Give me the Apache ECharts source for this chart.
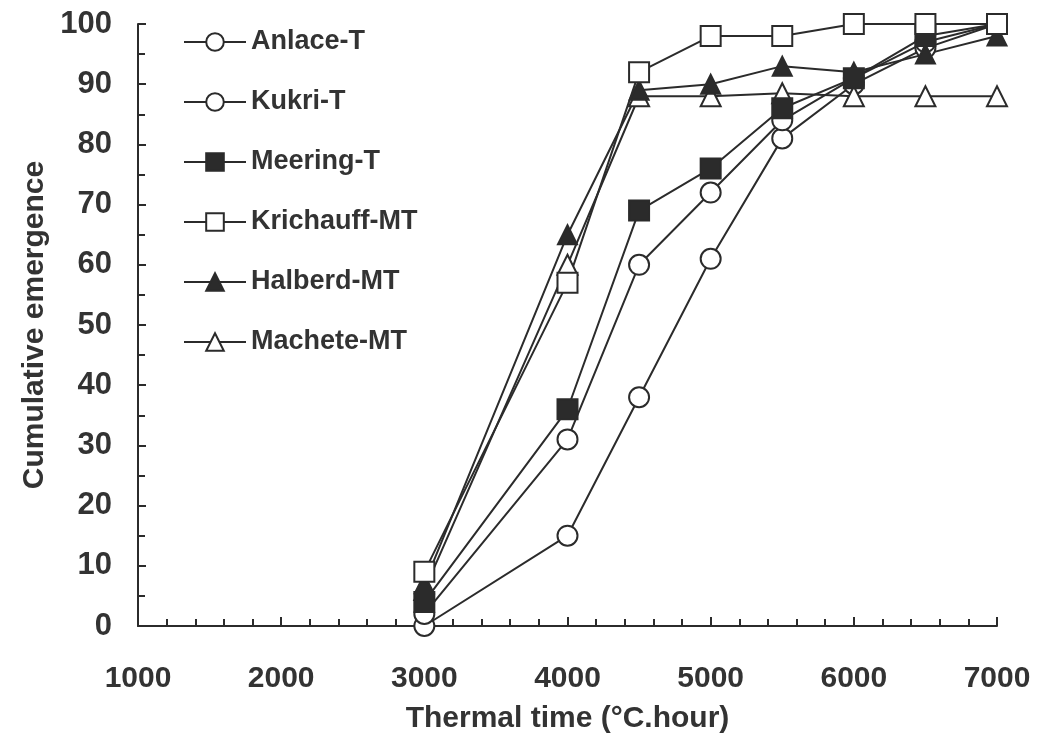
<!DOCTYPE html>
<html>
<head>
<meta charset="utf-8">
<script src="https://cdn.jsdelivr.net/npm/echarts@6/dist/echarts.min.js"></script>
<style>
    html, body { margin: 0; padding: 0; background: #fff; }
    #main { width: 1043px; height: 746px; }
</style>
</head>
<body>
<div id="main"></div>
<script>
    // thermal time (°C.hour) where emergence was counted
    var thermalTime = [3000, 4000, 4500, 5000, 5500, 6000, 6500, 7000];
    var xTicks = [1000, 2000, 3000, 4000, 5000, 6000, 7000];
    var yTicks = [0, 10, 20, 30, 40, 50, 60, 70, 80, 90, 100];

    var anlace = [0, 15, 38, 61, 81, 90, 96, 100];
    var kukri = [2, 31, 60, 72, 84, 91, 97, 100];
    var meering = [4, 36, 69, 76, 86, 91, 98, 100];
    var krichauff = [9, 57, 92, 98, 98, 100, 100, 100];
    var halberd = [7, 65, 89, 90, 93, 92, 95, 98];
    var machete = [6, 60, 88, 88, 88.5, 88, 88, 88];

    var ink = '#2b2b2b';
    var fontName = '"Liberation Sans", Arial, sans-serif';

    function pairs(vals) {
        var out = [];
        for (let i = 0; i < vals.length; i++) {
            out.push([thermalTime[i], vals[i]]);
        }
        return out;
    }

    function makeSeries(name, vals, symbol, size) {
        return {
            name: name,
            type: 'line',
            data: pairs(vals),
            symbol: symbol,
            symbolSize: size,
            showAllSymbol: true,
            lineStyle: { color: ink, width: 2 },
            itemStyle: { color: ink, borderColor: ink, borderWidth: 2 },
            emphasis: { disabled: true },
            z: 3
        };
    }

    var chart = echarts.init(document.getElementById('main'), null, { renderer: 'canvas' });

    var option = {
        animation: false,
        backgroundColor: '#fff',
        grid: { left: 138, right: 46, top: 24, bottom: 120 },
        legend: {
            orient: 'vertical',
            left: 178,
            top: 22,
            itemWidth: 62,
            itemHeight: 22,
            itemGap: 30,
            data: ['Anlace-T', 'Kukri-T', 'Meering-T', 'Krichauff-MT', 'Halberd-MT', 'Machete-MT'],
            textStyle: {
                fontFamily: fontName,
                fontWeight: 'bold',
                fontSize: 27,
                lineHeight: 30,
                color: '#333'
            }
        },
        xAxis: {
            type: 'value',
            min: xTicks[0],
            max: xTicks[xTicks.length - 1],
            interval: 1000,
            name: 'Thermal time (°C.hour)',
            nameLocation: 'middle',
            nameGap: 78,
            nameTextStyle: { fontFamily: fontName, fontWeight: 'bold', fontSize: 30, color: '#333' },
            axisLine: { lineStyle: { color: ink, width: 2 } },
            axisTick: { inside: true, length: 9, lineStyle: { color: ink, width: 2 } },
            minorTick: { show: true, splitNumber: 5, length: 7, lineStyle: { color: ink, width: 2 } },
            splitLine: { show: false },
            axisLabel: {
                margin: 38,
                formatter: function (v) { return String(v); },
                fontFamily: fontName, fontWeight: 'bold', fontSize: 30, color: '#333'
            }
        },
        yAxis: {
            type: 'value',
            min: yTicks[0],
            max: yTicks[yTicks.length - 1],
            interval: 10,
            name: 'Cumulative emergence',
            nameLocation: 'middle',
            nameGap: 82,
            nameTextStyle: { fontFamily: fontName, fontWeight: 'bold', fontSize: 30, color: '#333' },
            axisLine: { show: true, lineStyle: { color: ink, width: 2 } },
            axisTick: { show: true, inside: true, length: 8, lineStyle: { color: ink, width: 2 } },
            minorTick: { show: true, splitNumber: 2, length: 7, lineStyle: { color: ink, width: 2 } },
            splitLine: { show: false },
            axisLabel: {
                margin: 26,
                fontFamily: fontName, fontWeight: 'bold', fontSize: 31, color: '#333'
            }
        },
        series: [
            makeSeries('Anlace-T', anlace, 'emptyCircle', 20),
            makeSeries('Kukri-T', kukri, 'emptyCircle', 20),
            makeSeries('Machete-MT', machete, 'emptyTriangle', 20),
            makeSeries('Halberd-MT', halberd, 'triangle', 19),
            makeSeries('Meering-T', meering, 'rect', 20),
            makeSeries('Krichauff-MT', krichauff, 'emptyRect', 20)
        ]
    };

    chart.setOption(option);
    window.addEventListener('resize', chart.resize);
</script>
</body>
</html>
